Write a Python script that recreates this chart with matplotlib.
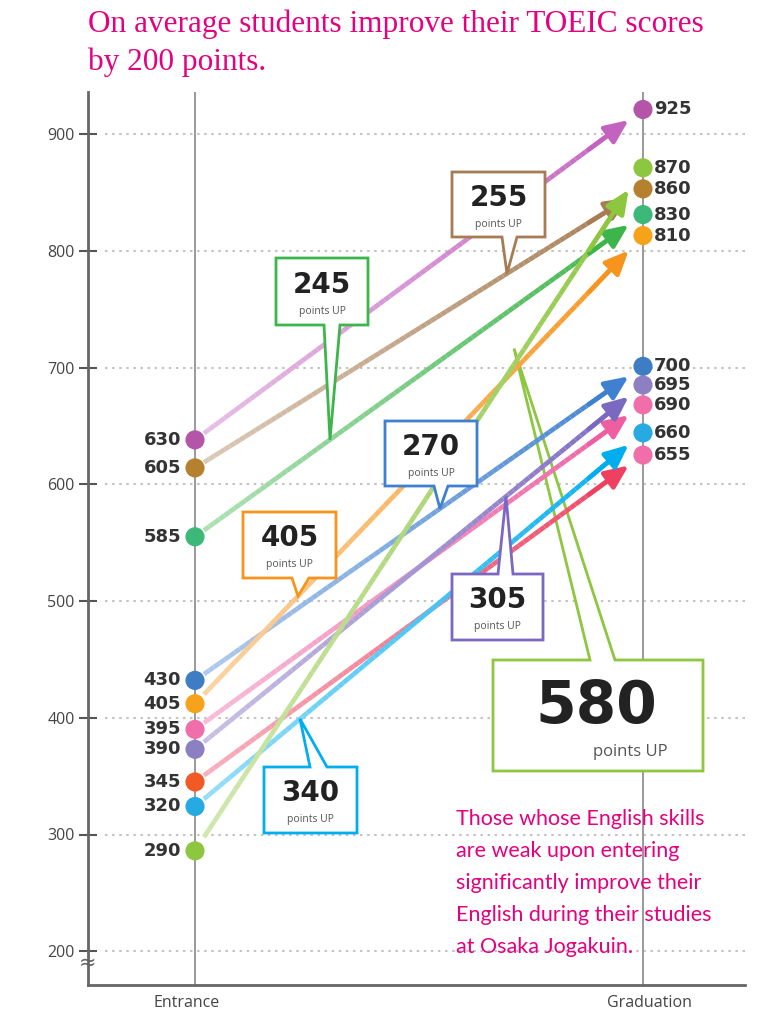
import numpy as np
import matplotlib.pyplot as plt
from matplotlib.collections import LineCollection
from matplotlib.patches import Polygon
from matplotlib.colors import to_rgb

# scores written next to the dots
entrance_scores = [630, 605, 585, 430, 405, 395, 390, 345, 320, 290]
graduation_scores = [925, 860, 830, 700, 810, 690, 695, 655, 660, 870]
# where the dots actually sit on the y scale (the original is not to scale)
entrance_y = [638, 614, 555, 432, 412, 390, 373, 345, 324, 286]
graduation_y = [921, 853, 831, 701, 813, 668, 685, 625, 644, 871]

line_colors = ['#c462c0', '#a67c52', '#3cb54a', '#3f80d0', '#f7941d',
               '#ee5ea0', '#7b68c0', '#ee4060', '#00aeef', '#8dc63f']
entrance_dot_colors = ['#b455a8', '#b5812f', '#3cb878', '#3e7cc4', '#f7a21b',
                       '#f06eaa', '#8c80c2', '#f15a24', '#27aae1', '#8dc63f']
graduation_dot_colors = ['#b455a8', '#b5812f', '#3cb878', '#3e7cc4', '#f7a21b',
                         '#f06eaa', '#8c80c2', '#f06eaa', '#27aae1', '#8dc63f']

# which series gets a "points UP" callout
callout_series = [1, 2, 3, 4, 6, 8, 9]

categories = ['Entrance', 'Graduation']
yticks = [200, 300, 400, 500, 600, 700, 800, 900]

title_lines = ['On average students improve their TOEIC scores', 'by 200 points.']
note_lines = ['Those whose English skills', 'are weak upon entering',
              'significantly improve their', 'English during their studies',
              'at Osaka Jogakuin.']

PINK = '#e4007f'


# layout helpers: pixel position in the 760x1010 picture -> data coords
def fx(px):
    return (px - 195) / 448.0


def fy(py):
    return 900 - (py - 134) / 1.1675


fig = plt.figure(figsize=(7.6, 10.1), dpi=100)
ax = fig.add_axes([88 / 760, 25 / 1010, 657 / 760, 893 / 1010])
ax.set_xlim(fx(88), fx(745))
ax.set_ylim(fy(985), fy(92))

for s in ['top', 'right']:
    ax.spines[s].set_visible(False)
for s in ['left', 'bottom']:
    ax.spines[s].set_color('#666666')
    ax.spines[s].set_linewidth(2)

ax.set_yticks(yticks)
ax.set_yticklabels([str(v) for v in yticks], fontsize=11.5, color='#444444',
                   family='Open Sans')
ax.tick_params(axis='y', direction='inout', length=13, width=1.5, color='#555555', pad=3)
ax.set_xticks([fx(187), 1.015])
ax.set_xticklabels(categories, fontsize=11.5, color='#444444', family='Open Sans')
ax.tick_params(axis='x', length=0, pad=7)

# dotted grid
ax.hlines(yticks, fx(105), fx(745), colors='#c4c4c4', linestyles=(0, (1.2, 2.2)),
          linewidth=1.5, zorder=1)
# entrance / graduation vertical lines
ax.vlines([0, 1], fy(985), fy(92), colors='#9a9a9a', linewidth=1.4, zorder=1.5)
# axis break mark
ax.text(fx(88), fy(963), '≈', ha='center', va='center', fontsize=15,
        color='#666666', zorder=2, clip_on=False)

# gradient lines with arrows
for i in range(len(entrance_y)):
    e, g = entrance_y[i], graduation_y[i]
    col = np.array(to_rgb(line_colors[i]))
    t = np.linspace(0.02, 0.93, 80)
    pts = np.column_stack([t, e + t * (g - e)]).reshape(-1, 1, 2)
    segs = np.concatenate([pts[:-1], pts[1:]], axis=1)
    tm = (t[:-1] + t[1:]) / 2
    f = 0.6 * (1 - tm)[:, None]
    cols = f * np.ones(3) + (1 - f) * col
    lc = LineCollection(segs, colors=cols, linewidths=3.4, capstyle='butt', zorder=3)
    ax.add_collection(lc)
    t0, t1 = 0.88, 0.968
    ax.annotate('', xy=(t1, e + t1 * (g - e)), xytext=(t0, e + t0 * (g - e)),
                arrowprops=dict(arrowstyle='-|>,head_length=0.95,head_width=0.42',
                                color=line_colors[i], lw=3.2, mutation_scale=15,
                                shrinkA=0, shrinkB=0),
                zorder=3.5)

# dots and labels
ax.scatter([0] * len(entrance_y), entrance_y, s=190, c=entrance_dot_colors,
           zorder=7, linewidths=0)
ax.scatter([1] * len(graduation_y), graduation_y, s=190, c=graduation_dot_colors,
           zorder=7, linewidths=0)
for i in range(len(entrance_y)):
    ax.text(fx(181), entrance_y[i], str(entrance_scores[i]), ha='right', va='center',
            fontsize=13, fontweight='bold', color='#333333', zorder=7)
    ax.text(fx(654), graduation_y[i], str(graduation_scores[i]), ha='left', va='center',
            fontsize=13, fontweight='bold', color='#333333', zorder=7)

# callouts: box (x0, x1, y0, y1) in px, tail base (xa, xb), tip (x, lift) in px, tail side
callout_layout = {
    1: ((452, 545, 172, 237), (502, 517), (507, 0), 'bottom'),
    2: ((276, 368, 258, 325), (324, 340), (330, 0), 'bottom'),
    3: ((385, 477, 421, 486), (434, 448), (440, 0), 'bottom'),
    4: ((243, 336, 512, 578), (292, 309), (298, 0), 'bottom'),
    6: ((452, 543, 574, 640), (498, 513), (506, 0), 'top'),
    8: ((264, 357, 767, 833), (310, 327), (300, 0), 'top'),
    9: ((493, 703, 660, 771), (590, 615), (514, 16), 'top'),
}

for i in callout_series:
    (x0, x1, y0, y1), (xa, xb), (tipx, lift), side = callout_layout[i]
    e, g = entrance_y[i], graduation_y[i]
    tt = fx(tipx)
    tip = (tt, e + tt * (g - e) + lift / 1.1675)
    X0, X1, Y0, Y1, XA, XB = fx(x0), fx(x1), fy(y0), fy(y1), fx(xa), fx(xb)
    if side == 'bottom':
        verts = [(X0, Y0), (X1, Y0), (X1, Y1), (XB, Y1), tip, (XA, Y1), (X0, Y1)]
    else:
        verts = [(X0, Y0), (XA, Y0), tip, (XB, Y0), (X1, Y0), (X1, Y1), (X0, Y1)]
    big = i == 9
    poly = Polygon(verts, closed=True, facecolor='white', edgecolor=line_colors[i],
                   linewidth=2, joinstyle='miter', zorder=2.5 if big else 5)
    ax.add_patch(poly)
    gain = graduation_scores[i] - entrance_scores[i]
    zt = 2.6 if big else 5.5
    if big:
        ax.text(fx(596), fy(707), str(gain), ha='center', va='center', fontsize=42,
                fontweight='bold', color='#222222', zorder=zt)
        ax.text(fx(630), fy(752), 'points UP', ha='center', va='center', fontsize=12,
                color='#555555', family='Open Sans', zorder=zt)
    else:
        cx = (x0 + x1) / 2
        h = y1 - y0
        ax.text(fx(cx), fy(y0 + 0.40 * h), str(gain), ha='center', va='center',
                fontsize=20, fontweight='bold', color='#222222', zorder=zt)
        ax.text(fx(cx), fy(y0 + 0.80 * h), 'points UP', ha='center', va='center',
                fontsize=7.5, color='#555555', family='Open Sans', zorder=zt)

# title and side note
fig.text(88 / 760, 1 - 32 / 1010, title_lines[0], fontsize=22.5, color=PINK,
         family='Liberation Serif', ha='left', va='baseline')
fig.text(88 / 760, 1 - 70 / 1010, title_lines[1], fontsize=22.5, color=PINK,
         family='Liberation Serif', ha='left', va='baseline')
for k, line in enumerate(note_lines):
    ax.text(fx(456), fy(825 + 32 * k), line, fontsize=15.5, color=PINK, family='Lato',
            ha='left', va='baseline', zorder=6)

fig.savefig('out.png', dpi=100)
